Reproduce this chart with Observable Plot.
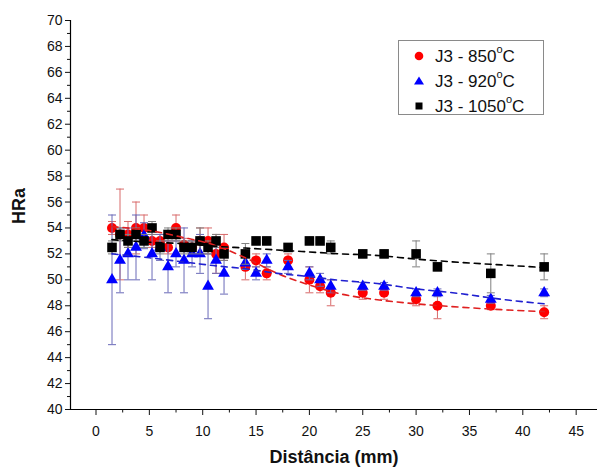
<!DOCTYPE html>
<html>
<head>
<meta charset="utf-8">
<script src="https://cdn.jsdelivr.net/npm/d3@7"></script>
<script src="https://cdn.jsdelivr.net/npm/@observablehq/plot@0.6"></script>
<style>
  body { margin: 0; background: #fff; font-family: Arial, "Liberation Sans", sans-serif; }
  #wrap { position: relative; width: 597px; height: 468px; }
  #legend { position: absolute; left: 398px; top: 40px; width: 146px; height: 75px;
            border: 1px solid #8a8a8a; background: #fff; box-sizing: border-box; }
  .row { position: absolute; left: 0; height: 22px; display: flex; align-items: center;
         font-size: 17px; color: #111; white-space: nowrap; }
  .row svg { width: 40px; height: 22px; flex: none; }
  .row sup { font-size: 11px; position: relative; top: -2px; }
</style>
</head>
<body>
<div id="wrap"><div id="chart"></div>
  <div id="legend"></div>
</div>
<script>
// ---- data ----
const distance = [1.5, 2.25, 3, 3.75, 4.5, 5.25, 6, 6.75, 7.5, 8.25, 9, 9.75, 10.5, 11.25, 12,
                  14, 15, 16, 18, 20, 21, 22, 25, 27, 30, 32, 37, 42];
const hra850  = [54, 53.5, 53.5, 54, 54, 53, 53, 52.5, 54, 52.7, 52.5, 53, 53, 52, 52.5,
                 51, 51.5, 50.5, 51.5, 50, 49.5, 49, 49, 49, 48.5, 48, 48, 47.5];
const err850  = [0.5, 3.5, 1, 2, 1, 0.5, 0.5, 0.5, 1, 0.5, 0.5, 1, 1, 1.5, 1,
                 1, 0.5, 0.5, 0.5, 1, 0.5, 1, 0.5, 0.5, 0.5, 1, 0.3, 0.5];
const hra920  = [50, 51.5, 52, 52.5, 53.4, 52, 52.5, 51, 52, 51.5, 52, 52, 49.5, 51.5, 50.5,
                 51.3, 50.5, 51.5, 51, 50.5, 50, 49.5, 49.5, 49.5, 49, 49, 48.5, 49];
const err920  = [5, 2.5, 2, 2.5, 1, 2, 1, 2, 1, 2.5, 1, 1.5, 2.5, 1, 1.6,
                 0.5, 0.5, 0.5, 0.5, 0.5, 0.5, 0.5, 0.3, 0.3, 0.3, 0.3, 0.3, 0.3];
const hra1050 = [52.5, 53.5, 53, 53.5, 53, 54, 52.5, 53.5, 53.5, 52.5, 52.5, 53, 52.5, 53, 52,
                 52, 53, 53, 52.5, 53, 53, 52.5, 52, 52, 52, 51, 50.5, 51];
const err1050 = [0.5, 0.5, 0.5, 0.5, 0.5, 0.5, 0.5, 0.5, 0.5, 0.5, 0.5, 1, 0.5, 0.5, 0.5,
                 0.8, 0.3, 0.3, 0.3, 0.3, 0.3, 0.5, 0.3, 0.3, 1, 0.3, 1.5, 1];

// fitted trend curves (dashed)
const fitX    = [1.5, 5, 8, 11, 14, 17, 20, 23, 26, 30, 34, 38, 42];
const fit850  = [54.1, 53.8, 53.3, 52.7, 51.7, 50.5, 49.6, 48.9, 48.5, 48.15, 47.9, 47.7, 47.55];
const fit920  = [52.0, 51.7, 51.4, 51.1, 50.85, 50.5, 50.25, 49.95, 49.75, 49.3, 48.95, 48.5, 48.15];
const fit1050 = [53.1, 52.9, 52.8, 52.6, 52.45, 52.3, 52.15, 52.0, 51.9, 51.6, 51.35, 51.15, 50.95];

const seriesNames = ["J3 - 850", "J3 - 920", "J3 - 1050"];
const yTicks = d3.range(40, 71, 2);
const yMinor = d3.range(41, 70, 2);
const xTicks = d3.range(0, 46, 5);
const xMinor = d3.range(2.5, 46, 5);

const series = [
  {name: seriesNames[0], y: hra850, err: err850, fit: fit850, color: "#ff0000", bar: "#d86a6a", line: "#e02020", symbol: "circle", r: 5},
  {name: seriesNames[1], y: hra920, err: err920, fit: fit920, color: "#0000ff", bar: "#6a6ab8", line: "#2020d0", symbol: "triangle", r: 4.4},
  {name: seriesNames[2], y: hra1050, err: err1050, fit: fit1050, color: "#000000", bar: "#808080", line: "#000000", symbol: "square", r: 5.4}
];

const cap = { draw(ctx) { ctx.moveTo(-4, 0); ctx.lineTo(4, 0); } };

const marks = [];
for (const s of series) {
  const pts = distance.map((x, i) => ({x, y: s.y[i], lo: s.y[i] - s.err[i], hi: s.y[i] + s.err[i]}));
  marks.push(Plot.ruleX(pts, {x: "x", y1: "lo", y2: "hi", stroke: s.bar, strokeWidth: 1}));
  marks.push(Plot.dot(pts, {x: "x", y: "lo", symbol: cap, stroke: s.bar, strokeWidth: 1, r: 3}));
  marks.push(Plot.dot(pts, {x: "x", y: "hi", symbol: cap, stroke: s.bar, strokeWidth: 1, r: 3}));
  marks.push(Plot.dot(pts, {x: "x", y: "y", symbol: s.symbol, r: s.r, fill: s.color, stroke: "none"}));
}
for (const s of series) {
  const f = fitX.map((x, i) => ({x, y: s.fit[i]}));
  marks.push(Plot.line(f, {x: "x", y: "y", stroke: s.line, strokeWidth: 1.6, strokeDasharray: "6,5", curve: "monotone-x"}));
}

const chart = Plot.plot({
  width: 597, height: 468,
  marginLeft: 70, marginRight: 0, marginTop: 20, marginBottom: 59,
  style: {fontFamily: "Arial, 'Liberation Sans', sans-serif", fontSize: "14px", color: "#111", background: "#fff"},
  x: {domain: [-2.39, 47.0], axis: null},
  y: {domain: [40, 70], axis: null},
  marks: [
    Plot.axisY({ticks: yTicks, tickSize: 5, tickPadding: 3, label: null, fontSize: 14}),
    Plot.axisY({ticks: yMinor, tickSize: 3, tickFormat: () => "", label: null}),
    Plot.axisX({ticks: xTicks, tickSize: 6, tickPadding: 11, label: null, fontSize: 14}),
    Plot.axisX({ticks: xMinor, tickSize: 3.5, tickFormat: () => "", label: null}),
    Plot.ruleX([-2.39], {stroke: "#000", strokeWidth: 1.2}),
    Plot.ruleY([40], {stroke: "#000", strokeWidth: 1.2}),
    ...marks,
    Plot.text(["HRa"], {frameAnchor: "left", dx: -51, dy: 9, rotate: -90, fontWeight: "bold", fontSize: 18, fill: "#111"}),
    Plot.text(["Distância (mm)"], {frameAnchor: "bottom", dy: 53, fontWeight: "bold", fontSize: 18, fill: "#111"})
  ]
});
document.getElementById("chart").appendChild(chart);

// legend
const legend = document.getElementById("legend");
const legendMarks = [
  '<circle cx="20" cy="11" r="4.3" fill="#ff0000"/>',
  '<path d="M20,6.5 L25,14.5 L15,14.5 Z" fill="#0000ff"/>',
  '<rect x="16.5" y="7.5" width="7" height="7" fill="#000"/>'
];
series.forEach((s, i) => {
  const row = document.createElement("div");
  row.className = "row";
  row.style.top = (4 + i * 25) + "px";
  row.innerHTML = `<svg viewBox="0 0 40 22">${legendMarks[i]}</svg><span style="margin-left:-4px">${s.name}<sup>o</sup>C</span>`;
  legend.appendChild(row);
});
</script>
</body>
</html>
